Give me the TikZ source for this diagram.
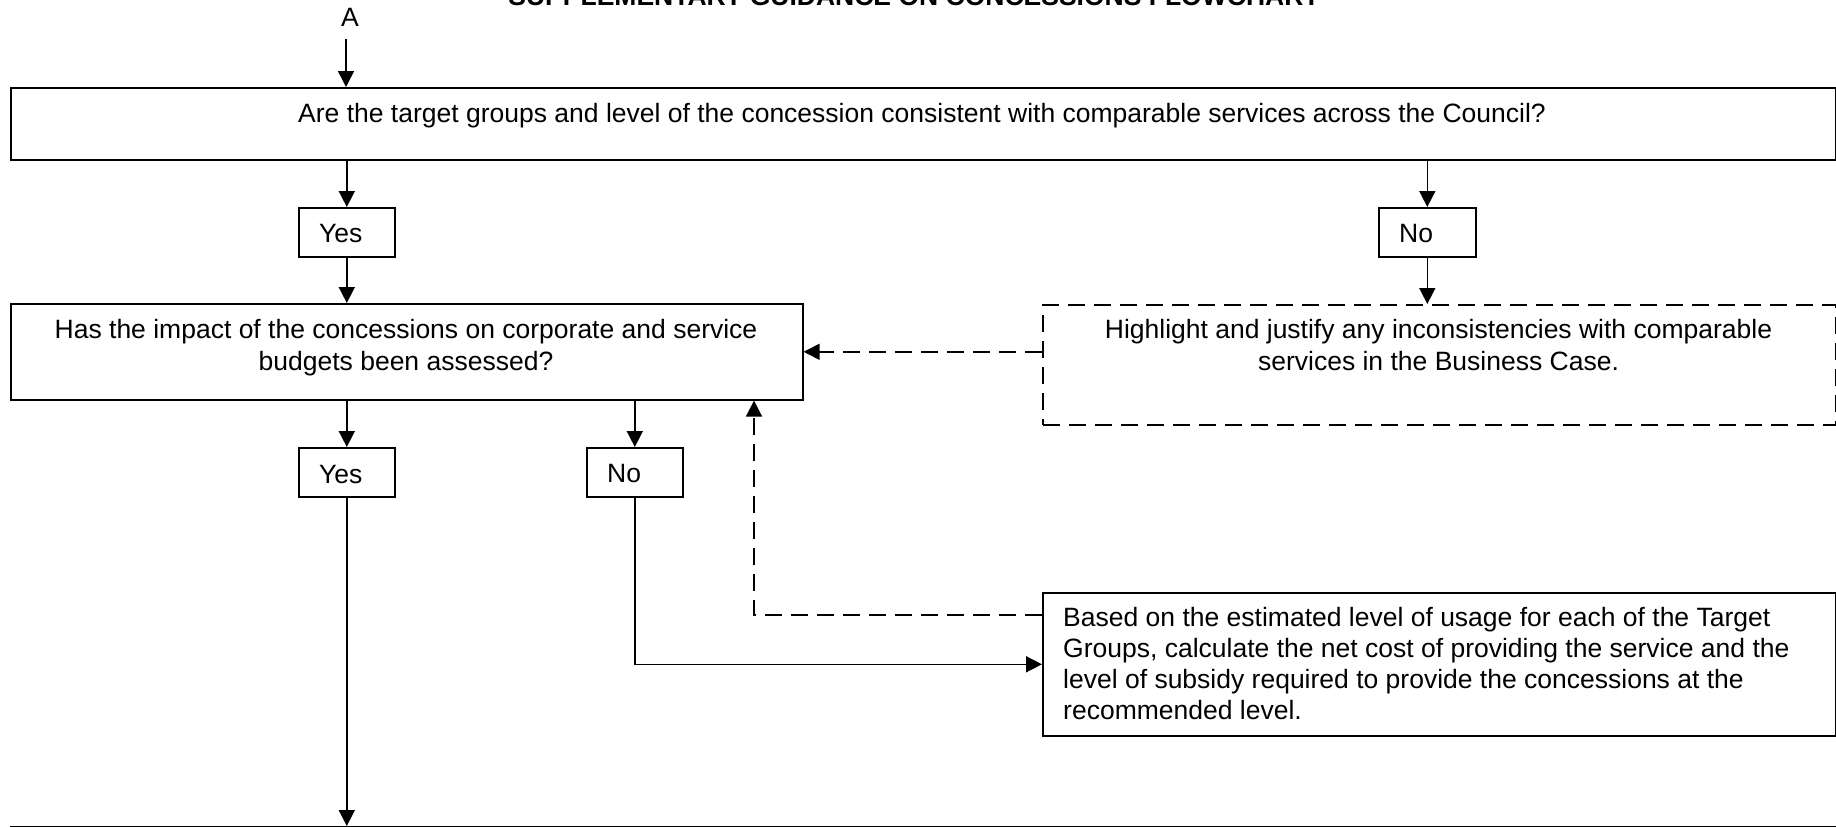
\documentclass[tikz,border=0pt]{standalone}
\usepackage{fontspec}
\setmainfont{Liberation Sans}
\usetikzlibrary{arrows.meta,calc}
\begin{document}
\begin{tikzpicture}[x=1pt,y=-1pt,
  box/.style={draw, line width=1.6pt, inner sep=0pt, anchor=north west},
  dbox/.style={box, dash pattern=on 17pt off 9pt},
  txt/.style={inner sep=0pt, font=\fontsize{26.5}{31}\selectfont},
  ttl/.style={inner sep=0pt, font=\fontsize{26.5}{31}\selectfont\bfseries},
  arr/.style={line width=1.6pt, -{Triangle[length=16pt,width=16pt]}},
  darr/.style={arr, dash pattern=on 17pt off 9pt}]
\useasboundingbox (0,0) rectangle (1836,827);
% title and start label
\node[ttl, anchor=base] (title) at (914,5.5) {SUPPLEMENTARY GUIDANCE ON CONCESSIONS FLOWCHART};
\node[txt, anchor=base] (A) at (350,27) {A};
\coordinate (a0) at (346,39);
% boxes
\node[box, minimum width=1825pt, minimum height=72pt] (b1) at (10,87) {};
\node[box, minimum width=96pt, minimum height=49pt] (y1) at (298,207) {};
\node[box, minimum width=97pt, minimum height=49pt] (n1) at (1378,207) {};
\node[box, minimum width=792pt, minimum height=96pt] (b2) at (10,303) {};
\node[dbox, minimum width=793pt, minimum height=120pt] (d1) at (1042,304) {};
\node[box, minimum width=96pt, minimum height=49pt] (y2) at (298,447) {};
\node[box, minimum width=96pt, minimum height=49pt] (n2) at (586,447) {};
\node[box, minimum width=793pt, minimum height=143pt] (b3) at (1042,592) {};
\node[box, minimum width=1825pt, minimum height=100pt] (b4) at (10,826) {};
% texts
\node[txt, anchor=base] (t1) at (922,122) {Are the target groups and level of the concession consistent with comparable services across the Council?};
\node[txt, anchor=base west] (ty1) at (319,242.7) {Yes};
\node[txt, anchor=base west] (tn1) at (1399,242.7) {No};
\node[txt, anchor=base] (t2a) at (406,338) {Has the impact of the concessions on corporate and service};
\node[txt, anchor=base] (t2b) at (406,370) {budgets been assessed?};
\node[txt, anchor=base] (td1a) at (1438.5,338) {Highlight and justify any inconsistencies with comparable};
\node[txt, anchor=base] (td1b) at (1438.5,370) {services in the Business Case.};
\node[txt, anchor=base west] (ty2) at (319,483) {Yes};
\node[txt, anchor=base west] (tn2) at (607,482.5) {No};
\node[txt, anchor=base west] (t3a) at (1063,626) {Based on the estimated level of usage for each of the Target};
\node[txt, anchor=base west] (t3b) at (1063,657) {Groups, calculate the net cost of providing the service and the};
\node[txt, anchor=base west] (t3c) at (1063,688) {level of subsidy required to provide the concessions at the};
\node[txt, anchor=base west] (t3d) at (1063,719) {recommended level.};
% connectors
\draw[arr] (a0) -- (a0 |- b1.north);
\draw[arr] (b1.south -| y1.north) -- (y1.north);
\draw[arr] (y1.south) -- (y1.south |- b2.north);
\draw[arr] (b1.south -| n1.north) -- (n1.north);
\draw[arr] (n1.south) -- (n1.south |- d1.north);
\draw[darr] (d1.west |- b2.east) -- (b2.east);
\draw[arr] (b2.south -| y2.north) -- (y2.north);
\draw[arr] (b2.south -| n2.north) -- (n2.north);
\draw[arr] (n2.south) |- (b3.west);
\coordinate (dl) at ($(b3.north west)+(0,23)$);
\draw[darr] (dl) -| ($(b2.south west)+(744,0)$);
\draw[arr] (y2.south) -- (y2.south |- b4.north);
\end{tikzpicture}
\end{document}
